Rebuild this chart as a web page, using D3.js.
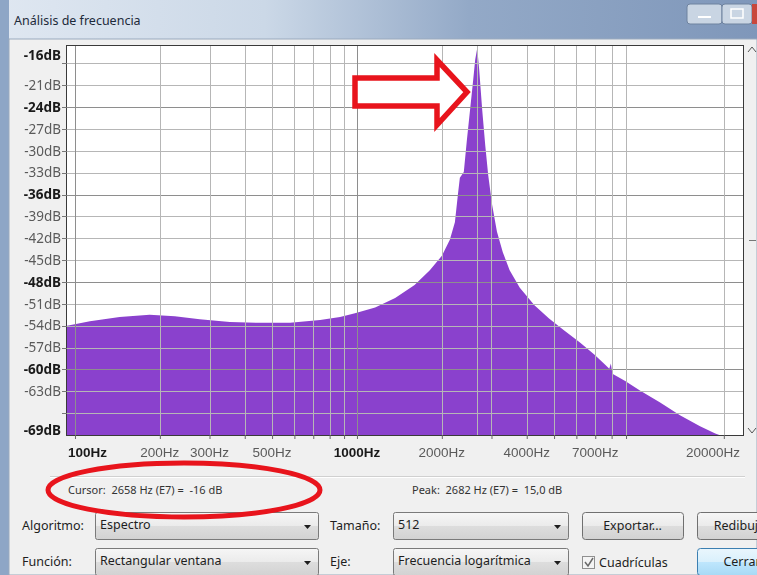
<!DOCTYPE html>
<html>
<head>
<meta charset="utf-8">
<script src="https://cdn.jsdelivr.net/npm/d3@7"></script>
<style>
  body { margin: 0; background: #f0f0f0; }
  svg text { font-family: "Noto Sans", sans-serif; white-space: pre; }
  .regla { font-family: "Liberation Sans", Arial, sans-serif; font-size: 13.5px; }
</style>
</head>
<body>
<svg id="ventana" width="757" height="575"></svg>
<script>

// espectro (Hz, dB)
var frecuencias = [93.7, 113, 144, 184, 226, 277, 354, 453, 579, 740, 871, 984, 1160, 1366, 1601, 1813, 2001, 2135, 2225, 2279, 2317, 2393, 2454, 2518, 2583, 2626, 2670, 2714, 2781, 2850, 2920, 3015, 3137, 3290, 3479, 3780, 4260, 4800, 5405, 6178, 6960, 7560, 7850, 7950, 8050, 8940, 10080, 11850, 13980, 16470, 18650, 20250];
var niveles = [-54.0, -53.4, -52.8, -52.5, -52.7, -53.1, -53.5, -53.6, -53.6, -53.2, -52.8, -52.3, -51.5, -50.2, -48.4, -46.4, -44.4, -42.2, -39.8, -36.1, -33.7, -32.9, -28.5, -24.4, -20.3, -17.5, -15.9, -18.9, -24.4, -29.2, -33.3, -37.4, -41.1, -43.9, -46.4, -48.8, -51.2, -53.0, -54.6, -56.3, -58.0, -59.3, -59.9, -59.2, -60.6, -61.6, -62.9, -64.5, -66.3, -67.8, -68.8, -69.3];

var rejillaDb = [-18, -21, -24, -27, -30, -33, -36, -39, -42, -45, -48, -51, -54, -57, -60, -63, -66];
var etiquetasDb = [-16, -21, -24, -27, -30, -33, -36, -39, -42, -45, -48, -51, -54, -57, -60, -63, -69];
var mayoresDb = [-16, -24, -36, -48, -60, -69];

var rejillaHz = [100, 200, 300, 400, 500, 600, 700, 800, 900, 1000, 2000, 3000, 4000, 5000, 6000, 7000, 8000, 9000, 20000];
var etiquetasHz = [100, 200, 300, 500, 1000, 2000, 4000, 7000, 20000];
var mayoresHz = [100, 1000];
var cursorHz = 2658;

var dominioHz = [93.7, 23390];
var dominioDb = [-69, -15.6];

var datos = frecuencias.map(function (f, i) { return { f: f, db: niveles[i] }; });

var margin = { top: 46, left: 67 },
  width = 676,
  height = 389;

var svg = d3.select("#ventana");
var defs = svg.append("defs");

// ---- marco de la ventana
var gBarra = defs.append("linearGradient").attr("id", "barra");
gBarra.append("stop").attr("offset", "0%").attr("stop-color", "#dfe7f1");
gBarra.append("stop").attr("offset", "35%").attr("stop-color", "#cbd8e7");
gBarra.append("stop").attr("offset", "62%").attr("stop-color", "#93a9c7");
gBarra.append("stop").attr("offset", "100%").attr("stop-color", "#7f97ba");

var gBoton = defs.append("linearGradient").attr("id", "boton").attr("x2", 0).attr("y2", 1);
gBoton.append("stop").attr("offset", "0%").attr("stop-color", "#f6f6f6");
gBoton.append("stop").attr("offset", "50%").attr("stop-color", "#ebebeb");
gBoton.append("stop").attr("offset", "51%").attr("stop-color", "#dddddd");
gBoton.append("stop").attr("offset", "100%").attr("stop-color", "#d2d2d2");

var gCerrar = defs.append("linearGradient").attr("id", "cerrar").attr("x2", 0).attr("y2", 1);
gCerrar.append("stop").attr("offset", "0%").attr("stop-color", "#eaf6fd");
gCerrar.append("stop").attr("offset", "50%").attr("stop-color", "#d9f0fc");
gCerrar.append("stop").attr("offset", "51%").attr("stop-color", "#bee6fd");
gCerrar.append("stop").attr("offset", "100%").attr("stop-color", "#a7d9f5");

svg.append("rect").attr("x", 0).attr("y", 0).attr("width", 757).attr("height", 40).attr("fill", "url(#barra)");
svg.append("rect").attr("x", 0).attr("y", 0).attr("width", 9).attr("height", 575).attr("fill", "#8ea6c6");
svg.append("rect").attr("x", 9).attr("y", 39).attr("width", 748).attr("height", 536)
  .attr("fill", "#f0f0f0").attr("stroke", "#9aaabd");

svg.append("text")
  .attr("x", 14).attr("y", 25)
  .style("font-size", "12.5px").attr("fill", "#1d2a3a")
  .text("Análisis de frecuencia");

svg.append("rect").attr("x", 687).attr("y", 4).attr("width", 35).attr("height", 20).attr("rx", 3)
  .attr("fill", "#c9d5e3").attr("stroke", "#6f839f");
svg.append("line").attr("x1", 698).attr("x2", 711).attr("y1", 17).attr("y2", 17).attr("stroke", "#ffffff").attr("stroke-width", 2);
svg.append("rect").attr("x", 722).attr("y", 4).attr("width", 30).attr("height", 20).attr("rx", 3)
  .attr("fill", "#c9d5e3").attr("stroke", "#6f839f");
svg.append("rect").attr("x", 731).attr("y", 9).attr("width", 12).attr("height", 9)
  .attr("fill", "none").attr("stroke", "#ffffff").attr("stroke-width", 1.5);
svg.append("rect").attr("x", 752).attr("y", 4).attr("width", 10).attr("height", 20).attr("fill", "#c8473c");

// ---- escalas
var xscale = d3.scaleLog().domain(dominioHz).range([0, width]);
var yscale = d3.scaleLinear().domain(dominioDb).range([height, 0]);

var plot = svg.append("g")
  .attr("transform", "translate(" + margin.left + "," + margin.top + ")")
  .style("isolation", "isolate");

var area = d3.area()
  .x(function (d) { return xscale(d.f) })
  .y0(height)
  .y1(function (d) { return yscale(d.db) });

defs.append("clipPath").attr("id", "recorte")
  .append("rect").attr("width", width).attr("height", height);

plot.append("rect").attr("width", width).attr("height", height).attr("fill", "white");

plot.append("path")
  .datum(datos)
  .attr("clip-path", "url(#recorte)")
  .attr("fill", "#8a41cd")
  .attr("d", area);

function rejilla(g, colorMenor, colorMayor) {
  g.append("g").selectAll("line")
    .data(rejillaDb)
    .enter().append("line")
    .attr("x1", 0).attr("x2", width)
    .attr("y1", d => Math.round(yscale(d)) + 0.5)
    .attr("y2", d => Math.round(yscale(d)) + 0.5)
    .attr("stroke", d => mayoresDb.indexOf(d) >= 0 ? colorMayor : colorMenor);

  g.append("g").selectAll("line")
    .data(rejillaHz.concat([cursorHz]))
    .enter().append("line")
    .attr("x1", d => Math.round(xscale(d)) + 0.5)
    .attr("x2", d => Math.round(xscale(d)) + 0.5)
    .attr("y1", 0).attr("y2", height)
    .attr("stroke", d => mayoresHz.indexOf(d) >= 0 ? colorMayor : colorMenor);
}

// la rejilla se ve clara sobre el morado y gris sobre el blanco
rejilla(plot.append("g").style("mix-blend-mode", "lighten"), "#e2bcf4", "#e2bcf4");
rejilla(plot.append("g").style("mix-blend-mode", "darken"), "#b6b6b6", "#8e8e8e");

plot.append("rect").attr("x", -0.5).attr("y", -0.5).attr("width", width + 1).attr("height", height + 1)
  .attr("fill", "none").attr("stroke", "#3a3a3a");

// ---- eje vertical
var ejeY = plot.append("g").attr("class", "regla");

ejeY.selectAll("line")
  .data(rejillaDb)
  .enter().append("line")
  .attr("x1", -5).attr("x2", 0)
  .attr("y1", d => Math.round(yscale(d)) + 0.5)
  .attr("y2", d => Math.round(yscale(d)) + 0.5)
  .attr("stroke", "#777");

ejeY.selectAll("text")
  .data(etiquetasDb)
  .enter().append("text")
  .attr("x", -6)
  .attr("y", d => Math.max(9, Math.min(height - 5, yscale(d))))
  .attr("dy", "0.35em")
  .attr("text-anchor", "end")
  .style("font-weight", d => mayoresDb.indexOf(d) >= 0 ? "bold" : "normal")
  .attr("fill", d => mayoresDb.indexOf(d) >= 0 ? "#1a1a1a" : "#5a5a5a")
  .text(d => d + "dB");

// ---- eje horizontal
var ejeX = plot.append("g")
  .attr("transform", "translate(0," + height + ")");

ejeX.call(d3.axisBottom(xscale).tickValues(rejillaHz).tickFormat("").tickSize(4))
  .call(g => g.select(".domain").remove())
  .selectAll("line").attr("stroke", "#666");

ejeX.selectAll(".etiqueta")
  .data(etiquetasHz)
  .enter().append("text")
  .attr("class", "etiqueta regla")
  .attr("y", 22)
  .attr("text-anchor", "middle")
  .style("font-weight", d => mayoresHz.indexOf(d) >= 0 ? "bold" : "normal")
  .attr("fill", d => mayoresHz.indexOf(d) >= 0 ? "#1a1a1a" : "#5a5a5a")
  .text(d => d + "Hz")
  .each(function (d) {
    var w = this.getComputedTextLength();
    var x = Math.max(w / 2 + 1, Math.min(width - w / 2 - 3, xscale(d)));
    d3.select(this).attr("x", x);
  });

// pequeño control a la derecha del grafico
svg.append("path").attr("d", "M748,52 L752,47 L756,52").attr("fill", "none").attr("stroke", "#555");
svg.append("line").attr("x1", 749).attr("x2", 756).attr("y1", 240.5).attr("y2", 240.5).attr("stroke", "#777");
svg.append("path").attr("d", "M748,428 L752,433 L756,428").attr("fill", "none").attr("stroke", "#555");

// ---- linea separadora y textos de estado
svg.append("line").attr("x1", 50).attr("x2", 745).attr("y1", 476.5).attr("y2", 476.5).attr("stroke", "#d0d0d0");
svg.append("line").attr("x1", 50).attr("x2", 745).attr("y1", 477.5).attr("y2", 477.5).attr("stroke", "#ffffff");

svg.append("text").attr("x", 68).attr("y", 494)
  .style("font-size", "11px").attr("fill", "#333")
  .text("Cursor:  2658 Hz (E7) =  -16 dB");

svg.append("text").attr("x", 412).attr("y", 494)
  .style("font-size", "11px").attr("fill", "#333")
  .text("Peak:  2682 Hz (E7) =  15,0 dB");

// ---- controles
var controles = [
  { etiqueta: "Algoritmo:", lx: 22, caja: "Espectro", x: 95, w: 223, y: 512 },
  { etiqueta: "Tamaño:", lx: 330, caja: "512", x: 393, w: 175, y: 512 },
  { etiqueta: "Función:", lx: 22, caja: "Rectangular ventana", x: 95, w: 223, y: 548 },
  { etiqueta: "Eje:", lx: 330, caja: "Frecuencia logarítmica", x: 393, w: 175, y: 548 }
];

controles.forEach(function (c) {
  svg.append("text").attr("x", c.lx).attr("y", c.y + 18)
    .style("font-size", "12.5px").attr("fill", "#1e1e1e").text(c.etiqueta);
  svg.append("rect").attr("x", c.x + 0.5).attr("y", c.y + 0.5).attr("width", c.w).attr("height", 27).attr("rx", 2)
    .attr("fill", "url(#boton)").attr("stroke", "#7a7a7a");
  svg.append("text").attr("x", c.x + 5).attr("y", c.y + 17)
    .style("font-size", "12.5px").attr("fill", "#1e1e1e").text(c.caja);
  svg.append("path")
    .attr("d", "M" + (c.x + c.w - 14) + "," + (c.y + 13) + " l7,0 l-3.5,4 z")
    .attr("fill", "#1e1e1e");
});

var botones = [
  { texto: "Exportar...", x: 582, w: 101, y: 512, activo: false },
  { texto: "Redibujar", x: 697, w: 90, y: 512, activo: false },
  { texto: "Cerrar", x: 697, w: 90, y: 548, activo: true }
];

botones.forEach(function (b) {
  svg.append("rect").attr("x", b.x + 0.5).attr("y", b.y + 0.5).attr("width", b.w).attr("height", 27).attr("rx", 3)
    .attr("fill", b.activo ? "url(#cerrar)" : "url(#boton)")
    .attr("stroke", b.activo ? "#3c7fb1" : "#707070");
  svg.append("text").attr("x", b.x + b.w / 2).attr("y", b.y + 18)
    .attr("text-anchor", "middle")
    .style("font-size", "12.5px").attr("fill", "#1e1e1e").text(b.texto);
});

svg.append("rect").attr("x", 582.5).attr("y", 556.5).attr("width", 12).attr("height", 12)
  .attr("fill", "#f4f4f4").attr("stroke", "#8f8f8f");
svg.append("path").attr("d", "M585,562 L588,566 L593,558").attr("fill", "none").attr("stroke", "#6a6a6a").attr("stroke-width", 1.5);
svg.append("text").attr("x", 599).attr("y", 567)
  .style("font-size", "12.5px").attr("fill", "#1e1e1e").text("Cuadrículas");

// ---- anotaciones en rojo
svg.append("path")
  .attr("d", "M355,78 L437,78 L437,60 L467,92 L437,125 L437,106 L355,106 Z")
  .attr("fill", "white")
  .attr("stroke", "#e8141c")
  .attr("stroke-width", 5.5)
  .attr("stroke-linejoin", "miter");

svg.append("ellipse")
  .attr("cx", 184).attr("cy", 490).attr("rx", 136).attr("ry", 27)
  .attr("fill", "none")
  .attr("stroke", "#e8141c")
  .attr("stroke-width", 5);

</script>
</body>
</html>
